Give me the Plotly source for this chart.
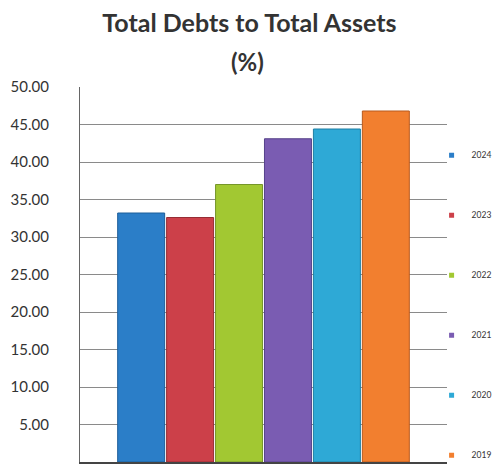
import plotly.graph_objects as go

# Debt ratio by year (%), drawn left to right as 2024 ... 2019
years = ["2024", "2023", "2022", "2021", "2020", "2019"]
ratios = [33.2, 32.6, 37.0, 43.1, 44.4, 46.8]
colors = ["#2b7ec8", "#cc4049", "#a2c832", "#7a5cb2", "#2ea9d6", "#f27f2f"]
edge_colors = ["#1d5e9a", "#962c34", "#76962a", "#56428a", "#1f7fa3", "#b85a1e"]

y_ticks = [5, 10, 15, 20, 25, 30, 35, 40, 45, 50]
y_tick_text = [f"{v:.2f}" for v in y_ticks]

fig = go.Figure()
for yr, val, col, edge in zip(years, ratios, colors, edge_colors):
    fig.add_trace(go.Bar(
        x=[""], y=[val], name=yr, legendgroup=yr, showlegend=False,
        marker=dict(color=col, line=dict(color=edge, width=1)),
        hoverinfo="name+y",
    ))
# small square keys for the legend
for yr, col in zip(years, colors):
    fig.add_trace(go.Scatter(
        x=[None], y=[None], mode="markers", name=yr, legendgroup=yr,
        marker=dict(symbol="square", size=5, color=col),
    ))

fig.update_layout(
    width=504, height=465,
    margin=dict(l=80, r=57, t=87, b=3, autoexpand=False),
    paper_bgcolor="white", plot_bgcolor="white",
    barmode="group", bargap=0.2, bargroupgap=0.04,
    title=dict(
        text="<b>Total Debts to Total Assets</b>",
        x=0.495, xanchor="center", xref="container",
        y=1 - 23 / 465, yanchor="middle", yref="container",
        font=dict(family="Lato", size=25, color="#333333"),
    ),
    annotations=[dict(
        text="<b>(%)</b>", xref="paper", yref="paper",
        x=0.456, y=1.0 + (87 - 61) / 375, xanchor="center", yanchor="middle",
        showarrow=False, font=dict(family="Lato", size=24, color="#333333"),
    )],
    font=dict(family="Lato", color="#333333"),
    showlegend=True,
    legend=dict(
        x=0.958, xanchor="left", y=0.857, yanchor="top",
        traceorder="grouped", tracegroupgap=41, maxheight=465,
        font=dict(size=8.5, color="#333333"),
        itemwidth=30, bgcolor="rgba(0,0,0,0)",
    ),
)

fig.update_yaxes(
    range=[0, 50], tickvals=y_ticks, ticktext=y_tick_text,
    showgrid=True, gridcolor="#8a8a8a", gridwidth=1.4,
    showline=True, linecolor="#666666", linewidth=1.3,
    ticks="", ticklabelstandoff=27,
    tickfont=dict(family="Lato", size=15, color="#333333"),
    zeroline=False,
)
fig.update_xaxes(
    showticklabels=False, showline=True, linecolor="#444444", linewidth=1.5,
    showgrid=False, mirror=False,
)

fig.write_html("out.html")
